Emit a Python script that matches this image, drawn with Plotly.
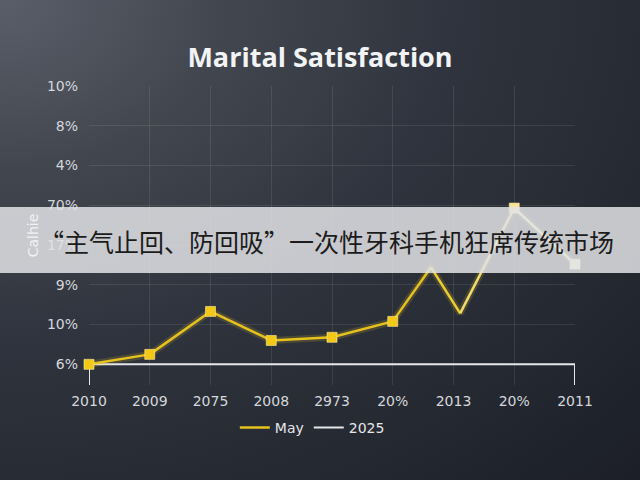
import plotly.graph_objects as go

# ---- data ----
x_tick_labels = ['2010', '2009', '2075', '2008', '2973', '20%', '2013', '20%', '2011']
y_tick_labels = ['6%', '10%', '9%', '17%', '70%', '4%', '8%', '10%']

may_x = [0, 1, 2, 3, 4, 5, 5.63, 6.11, 7, 8]
may_y = [0, 0.25, 1.33, 0.60, 0.68, 1.08, 2.44, 1.28, 3.93, 2.52]
may_has_marker = [1, 1, 1, 1, 1, 1, 0, 0, 1, 1]

base_x = [0, 0, 8, 8]
base_y = [-0.52, 0, 0, -0.52]

title_text = 'Marital Satisfaction'
y_title = 'Calhie'
banner_text = '“主气止回、防回吸”一次性牙科手机狂席传统市场'

# ---- styling ----
seg_colors = ['#e6c21e'] * 6 + ['#ecce30', '#f0da6e', '#f3e6a8']
marker_colors = ['#f2c916'] * 6 + ['#f2c916', '#f2c916', '#f7e49c', '#f1e7c2']
grid_color = 'rgba(255,255,255,0.09)'
tick_font = dict(family='DejaVu Sans', size=14, color='#d4d7dc')

fig = go.Figure()

# background radial gradient (full-canvas hidden axes)
fig.add_trace(go.Scatter(
    x=[-1.4, 1.4, 1.4, -1.4, -1.4], y=[-0.4, -0.4, 2.4, 2.4, -0.4],
    xaxis='x', yaxis='y', mode='lines', fill='toself',
    line=dict(width=0, color='rgba(0,0,0,0)'),
    fillgradient=dict(type='radial', colorscale=[
        [0, '#595e69'], [0.25, '#42474f'], [0.5, '#30343e'],
        [0.75, '#262a32'], [1, '#1c1f27']]),
    hoverinfo='skip', showlegend=False))

# baseline series "2025"
fig.add_trace(go.Scatter(
    x=base_x, y=base_y, xaxis='x2', yaxis='y2', mode='lines', name='2025',
    line=dict(color='#e6e7ea', width=2), cliponaxis=False, hoverinfo='skip'))

# glow under the May line
fig.add_trace(go.Scatter(
    x=may_x, y=may_y, xaxis='x2', yaxis='y2', mode='lines',
    line=dict(color='rgba(245,205,40,0.16)', width=7), cliponaxis=False,
    showlegend=False, hoverinfo='skip'))

# May line as colored segments
for i in range(len(may_x) - 1):
    fig.add_trace(go.Scatter(
        x=may_x[i:i + 2], y=may_y[i:i + 2], xaxis='x2', yaxis='y2', mode='lines',
        name='May', legendgroup='may', showlegend=(i == 0),
        line=dict(color=seg_colors[i], width=2.5), cliponaxis=False))

# May markers
mx = [x for x, m in zip(may_x, may_has_marker) if m]
my = [y for y, m in zip(may_y, may_has_marker) if m]
mc = [c for c, m in zip(marker_colors, may_has_marker) if m]
fig.add_trace(go.Scatter(
    x=mx, y=my, xaxis='x2', yaxis='y2', mode='markers', showlegend=False,
    legendgroup='may',
    marker=dict(symbol='square', size=10, color=mc,
                line=dict(color='rgba(255,235,150,0.6)', width=1)),
    cliponaxis=False))

fig.update_layout(
    width=640, height=480,
    margin=dict(l=0, r=0, t=0, b=0, autoexpand=False),
    paper_bgcolor='#272b34', plot_bgcolor='rgba(0,0,0,0)',
    title=dict(text=title_text, x=0.5, xref='container', y=1 - 58 / 480,
               yref='container', yanchor='middle', xanchor='center',
               font=dict(family='Open Sans', size=27, color='#f2f3f5', weight='bold')),
    xaxis=dict(domain=[0, 1], range=[0, 1], visible=False, fixedrange=True),
    yaxis=dict(domain=[0, 1], range=[0, 1], visible=False, fixedrange=True),
    xaxis2=dict(domain=[89 / 640, 575 / 640], range=[0, 8], anchor='y2',
                tickvals=list(range(len(x_tick_labels))), ticktext=x_tick_labels,
                showgrid=True, gridcolor=grid_color, gridwidth=1, automargin=False,
                zeroline=False, showline=False, ticks='', tickfont=tick_font,
                ticklabelstandoff=6),
    yaxis2=dict(domain=[(480 - 385) / 480, (480 - 86) / 480], range=[-0.52, 7],
                anchor='x2', automargin=False,
                tickvals=list(range(len(y_tick_labels))), ticktext=y_tick_labels,
                showgrid=True, gridcolor=grid_color, gridwidth=1,
                zeroline=False, showline=False, ticks='', tickfont=tick_font,
                ticklabelstandoff=10,
                title=dict(text='\u00a0' * 7 + y_title, standoff=4,
                           font=dict(family='DejaVu Sans', size=14, color='#f2f2f2'))),
    legend=dict(orientation='h', x=0.488, xanchor='center', y=1 - 428 / 480,
                yanchor='middle', bgcolor='rgba(0,0,0,0)', itemwidth=30,
                font=dict(family='DejaVu Sans', size=14, color='#e4e6ea'),
                traceorder='reversed'),
    shapes=[dict(type='rect', xref='paper', yref='paper', x0=0, x1=1,
                 y0=1 - 273 / 480, y1=1 - 207 / 480, fillcolor='#e2e3e6',
                 opacity=0.85, line=dict(width=0), layer='above')],
    annotations=[dict(text=banner_text, xref='x', yref='y',
                      x=326 / 640, y=1 - 241 / 480, showarrow=False,
                      xanchor='center', yanchor='middle',
                      font=dict(family='Noto Sans CJK SC', size=25, color='#1c1c1c'))],
)

fig.write_html('out.html', config={'displayModeBar': False},
               post_script="document.body.style.margin='0';document.body.style.overflow='hidden';")
